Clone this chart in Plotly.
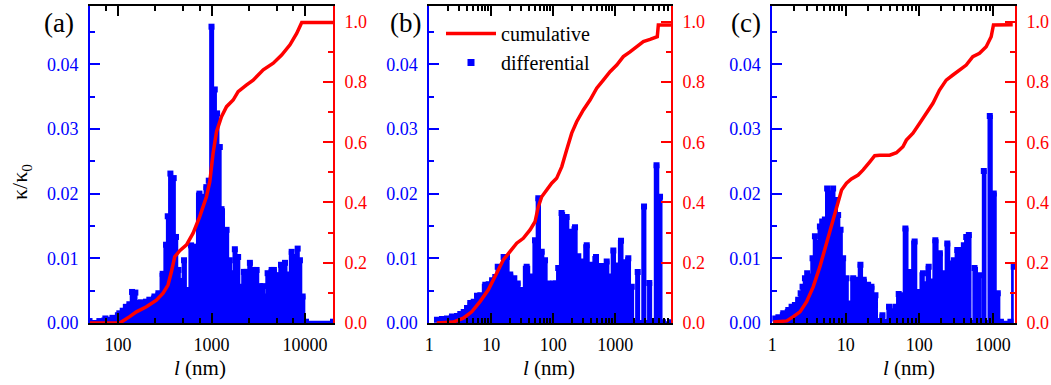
import plotly.graph_objects as go

FONT = "Liberation Serif, Times New Roman, serif"
BLUE = "#0000FF"
RED = "#FF0000"

# ---------------- panel (a) ----------------
a_diff_x = [49.4, 63, 73, 87, 103, 112, 121, 132, 141, 153, 162, 176, 199, 216, 245, 270,
            300, 326, 340, 363, 394, 417, 443, 474, 508, 557, 604, 657, 743, 807, 880, 935,
            1000, 1084, 1148, 1227, 1280, 1449, 1571, 1663, 1778, 1928, 2046, 2222, 2376, 2577,
            2795, 3040, 3297, 3580, 3735, 3990, 4405, 4660, 5105, 5544, 6122, 6590, 7218, 7700,
            8370, 8850, 9460, 10280, 20000]
a_diff_y = [0.0003, 0.0003, 0.0007, 0.0008, 0.0015, 0.0019, 0.0025, 0.0029, 0.0048, 0.0047, 0.0031, 0.0032, 0.0033, 0.0036, 0.0041, 0.0046,
            0.0076, 0.0121, 0.0165, 0.0231, 0.0224, 0.0133, 0.0082, 0.0065, 0.0097, 0.0051, 0.0120, 0.0118, 0.0200, 0.0195, 0.0210, 0.0220,
            0.0458, 0.0361, 0.0324, 0.0272, 0.0176, 0.0144, 0.0097, 0.0077, 0.0114, 0.0102, 0.0056, 0.0079, 0.0079, 0.0093,
            0.0082, 0.0082, 0.0057, 0.0057, 0.0041, 0.0077, 0.0082, 0.0082, 0.0074, 0.0090, 0.0093, 0.0075, 0.0110, 0.0102,
            0.0115, 0.0097, 0.0041, 0.0002, 0.0002]
a_cum_x = [49.4, 104, 133, 157, 201, 257, 303, 342, 372, 404, 457, 540, 635, 748, 883, 959, 1040,
           1132, 1279, 1449, 1706, 1928, 2377, 2793, 3581, 4581, 5636, 6918, 8166, 9247, 20000]
a_cum_y = [0.0, 0.0, 0.021, 0.037, 0.054, 0.076, 0.099, 0.126, 0.170, 0.220, 0.240, 0.259, 0.298, 0.353, 0.419, 0.469, 0.563,
           0.635, 0.685, 0.718, 0.740, 0.768, 0.790, 0.806, 0.840, 0.862, 0.889, 0.923, 0.961, 0.997, 0.997]

# ---------------- panel (b) ----------------
b_diff_x = [1.33, 1.60, 1.93, 2.32, 2.80, 3.16, 3.59, 4.06, 4.58, 5.20, 5.88, 6.65, 8.0, 9.08, 10.3, 11.6,
            12.7, 14.0, 15.8, 17.9, 20.2, 23.5, 26.7, 30.1, 37.2, 44.9, 50.7, 57.3, 65.0, 73.5, 83.0, 100,
            110, 120, 136, 164, 186, 224, 253, 287, 346, 401, 488, 567, 640, 726, 822, 929, 1054, 1236,
            1381, 1621, 1840, 2040, 2297, 2548, 2904, 3220, 3532, 4055, 4620, 5260, 5875, 7907]
b_diff_y = [0.0005, 0.0006, 0.0007, 0.0010, 0.0011, 0.0014, 0.0017, 0.0023, 0.0031, 0.0033, 0.0042, 0.0043, 0.0059, 0.0060, 0.0066, 0.0071,
            0.0087, 0.0079, 0.0102, 0.0102, 0.0075, 0.0069, 0.0061, 0.0051, 0.0087, 0.0072, 0.0128, 0.0193, 0.0110, 0.0097, 0.0061, 0.0061,
            0.0061, 0.0085, 0.0170, 0.0164, 0.0141, 0.0148, 0.0103, 0.0095, 0.0120, 0.0090, 0.0102, 0.0088, 0.0088, 0.0095, 0.0072, 0.0112, 0.0089, 0.0127,
            0.0094, 0.0100, 0.0056, 0.0, 0.0079, 0.0, 0.0180, 0.0, 0.0062, 0.0, 0.0244, 0.0195, 0.0001, 0.0001]
b_cum_x = [1.32, 2.44, 3.53, 4.83, 6.57, 8.95, 12.2, 15.6, 20.0, 25.7, 32.8, 42.1, 50.7, 57.3, 65.0, 78.3,
           94.2, 113, 137, 164, 198, 238, 305, 391, 501, 640, 822, 1054, 1346, 1726, 2213, 2830, 3630,
           4365, 4750, 4940, 7900]
b_cum_y = [0.0, 0.003, 0.016, 0.037, 0.071, 0.110, 0.165, 0.209, 0.237, 0.265, 0.281, 0.309, 0.336, 0.386, 0.419, 0.444,
           0.464, 0.480, 0.519, 0.574, 0.630, 0.668, 0.707, 0.740, 0.779, 0.806, 0.834, 0.856, 0.884, 0.900, 0.917, 0.934, 0.941,
           0.948, 0.950, 0.989, 0.989]

# ---------------- panel (c) ----------------
c_diff_x = [1.03, 1.21, 1.41, 1.65, 1.83, 2.03, 2.25, 2.43, 2.58, 2.78, 2.98, 3.25, 3.53, 3.80, 4.08, 4.44,
            4.77, 5.19, 5.57, 6.07, 6.40, 6.72, 7.32, 7.86, 8.48, 9.19, 10.2, 11.1, 12.6, 14.2, 15.8, 17.5,
            20.1, 22.3, 25.3, 27.8, 31.5, 34.9, 38.7, 42.5, 47.2, 52.4, 58.1, 64.6, 73.8, 86.3, 95.7, 112,
            118, 134, 146, 165, 190, 216, 240, 272, 295, 328, 363, 403, 434, 471, 524, 563, 658, 707,
            753, 837, 908, 1028, 1166, 1288, 1733, 1922]
c_diff_y = [0.0007, 0.0009, 0.0015, 0.0020, 0.0025, 0.0028, 0.0036, 0.0046, 0.0056, 0.0069, 0.0077, 0.0072, 0.0100, 0.0134, 0.0124, 0.0149,
            0.0157, 0.0160, 0.0208, 0.0200, 0.0180, 0.0208, 0.0190, 0.0167, 0.0144, 0.0100, 0.0069, 0.0030, 0.0069, 0.0067, 0.0090, 0.0067,
            0.0059, 0.0056, 0.0043, 0.0003, 0.0012, 0.0002, 0.0025, 0.0018, 0.0025, 0.0045, 0.0043, 0.0146, 0.0079, 0.0126, 0.0048, 0.0077,
            0.0060, 0.0087, 0.0064, 0.0128, 0.0108, 0.0077, 0.0123, 0.0092, 0.0097, 0.0113, 0.0113, 0.0120, 0.0133, 0.0136, 0.0, 0.0085, 0.0074, 0.0,
            0.0235, 0.0, 0.0320, 0.0200, 0.0046, 0.0002, 0.0002, 0.0087]
c_cum_x = [1.03, 1.57, 1.93, 2.38, 2.93, 3.60, 4.44, 5.47, 6.40, 7.48, 8.75, 10.2, 11.9, 14.7, 17.2, 21.2,
           24.7, 28.9, 39.5, 48.8, 59.8, 66.6, 81.9, 101, 124, 153, 188, 232, 286, 352, 434, 533, 658,
           811, 948, 1019, 1862]
c_cum_y = [0.003, 0.007, 0.021, 0.037, 0.071, 0.120, 0.187, 0.265, 0.320, 0.386, 0.441, 0.464, 0.478, 0.491, 0.508, 0.535,
           0.555, 0.557, 0.557, 0.565, 0.585, 0.607, 0.630, 0.663, 0.696, 0.729, 0.773, 0.806, 0.823, 0.840, 0.856, 0.884, 0.895,
           0.917, 0.950, 0.989, 0.990]

# tick definitions
a_major = [100, 1000, 10000]
a_minor = [75, 250, 500, 750, 2500, 5000, 7500]
bc_major = [1, 10, 100, 1000]
bc_minor = [m * 10 ** k for k in range(4) for m in range(2, 10)]

W, H = 1051, 385
panels = [
    dict(x0=90, x1=333, xr=[1.699, 4.301], maj=a_major, mnr=a_minor,
         dx=a_diff_x, dy=a_diff_y, cx=a_cum_x, cy=a_cum_y, label="(a)", lx=59, tx=200),
    dict(x0=429.3, x1=671, xr=[0.0, 3.898], maj=bc_major, mnr=bc_minor,
         dx=b_diff_x, dy=b_diff_y, cx=b_cum_x, cy=b_cum_y, label="(b)", lx=405, tx=549),
    dict(x0=772.3, x1=1015, xr=[0.0, 3.301], maj=bc_major, mnr=bc_minor,
         dx=c_diff_x, dy=c_diff_y, cx=c_cum_x, cy=c_cum_y, label="(c)", lx=746, tx=909),
]
y_top, y_bot = 6, 323
ydom = [1 - y_bot / H, 1 - y_top / H]

fig = go.Figure()
layout = dict(width=W, height=H, margin=dict(l=0, r=0, t=0, b=0, pad=0, autoexpand=False), autosize=False,
              plot_bgcolor="white", paper_bgcolor="white")
annotations = []
tickfont = dict(family=FONT, size=18)

for i, p in enumerate(panels):
    xn = "x" if i == 0 else f"x{i+1}"
    yl = "y" if i == 0 else f"y{2*i+1}"
    yr = f"y{2*i+2}"
    assert len(p["dx"]) == len(p["dy"]) and len(p["cx"]) == len(p["cy"])
    fig.add_trace(go.Scatter(
        x=p["dx"], y=p["dy"], xaxis=xn, yaxis=yl, mode="lines+markers",
        line=dict(color=BLUE, width=2, shape="hvh"), fill="tozeroy", fillcolor=BLUE,
        marker=dict(symbol="square", size=6, color=BLUE), showlegend=False, hoverinfo="skip"))
    fig.add_trace(go.Scatter(
        x=p["cx"], y=p["cy"], xaxis=xn, yaxis=yr, mode="lines",
        line=dict(color=RED, width=3.5), name="cumulative", showlegend=(i == 1),
        legendrank=1, hoverinfo="skip"))
    if i == 1:
        fig.add_trace(go.Scatter(
            x=[None], y=[None], xaxis=xn, yaxis=yl, mode="markers",
            marker=dict(symbol="square", size=7, color=BLUE), name="differential",
            showlegend=True, legendrank=2))

    xkey = "xaxis" if i == 0 else f"xaxis{i+1}"
    ylkey = "yaxis" if i == 0 else f"yaxis{2*i+1}"
    yrkey = f"yaxis{2*i+2}"
    layout[xkey] = dict(
        type="log", domain=[p["x0"] / W, p["x1"] / W], range=p["xr"], anchor=yl,
        showline=True, linecolor="black", linewidth=2, mirror="ticks",
        ticks="inside", ticklen=10, tickwidth=2, tickcolor="black",
        tickmode="array", tickvals=p["maj"], ticktext=[str(v) for v in p["maj"]],
        tickfont=dict(color="black", **tickfont), ticklabelstandoff=4, automargin=False,
        minor=dict(tickmode="array", tickvals=p["mnr"], ticks="inside", ticklen=5,
                   tickwidth=1.5, tickcolor="black", showgrid=False),
        showgrid=False, zeroline=False)
    layout[ylkey] = dict(
        domain=ydom, range=[0, 0.049], anchor=xn, side="left",
        showline=True, linecolor=BLUE, linewidth=2,
        ticks="inside", ticklen=10, tickwidth=2, tickcolor=BLUE,
        tick0=0, dtick=0.01, tickformat=".2f", automargin=False,
        tickfont=dict(color=BLUE, **tickfont), ticklabelstandoff=6,
        minor=dict(dtick=0.005, ticks="inside", ticklen=5, tickwidth=1.5, tickcolor=BLUE, showgrid=False),
        showgrid=False, zeroline=False)
    layout[yrkey] = dict(
        overlaying=yl, range=[0, 1.052], anchor=xn, side="right",
        showline=True, linecolor=RED, linewidth=2,
        ticks="inside", ticklen=10, tickwidth=2, tickcolor=RED,
        tick0=0, dtick=0.2, tickformat=".1f", automargin=False,
        tickfont=dict(color=RED, **tickfont), ticklabelstandoff=6,
        minor=dict(dtick=0.1, ticks="inside", ticklen=5, tickwidth=1.5, tickcolor=RED, showgrid=False),
        showgrid=False, zeroline=False)

    annotations.append(dict(text=p["label"], x=p["lx"] / W, y=1 - 23 / H, xref="paper", yref="paper",
                            xanchor="center", yanchor="middle", showarrow=False,
                            font=dict(family=FONT, size=27, color="black")))
    annotations.append(dict(text="<i>l</i> (nm)", x=p["tx"] / W, y=1 - 368 / H, xref="paper", yref="paper",
                            xanchor="center", yanchor="middle", showarrow=False,
                            font=dict(family=FONT, size=21, color="black")))

annotations.append(dict(text="κ/κ<sub>0</sub>", x=21 / W, y=1 - 182 / H, xref="paper", yref="paper",
                        xanchor="center", yanchor="middle", showarrow=False, textangle=-90,
                        font=dict(family=FONT, size=22, color="black")))

layout["annotations"] = annotations
layout["showlegend"] = True
layout["legend"] = dict(x=441 / W, y=1 - 14 / H, xanchor="left", yanchor="top",
                        font=dict(family=FONT, size=20, color="black"),
                        bgcolor="rgba(0,0,0,0)", borderwidth=0, itemwidth=50, tracegroupgap=0)
fig.update_layout(**layout)
fig.write_html("out.html")
